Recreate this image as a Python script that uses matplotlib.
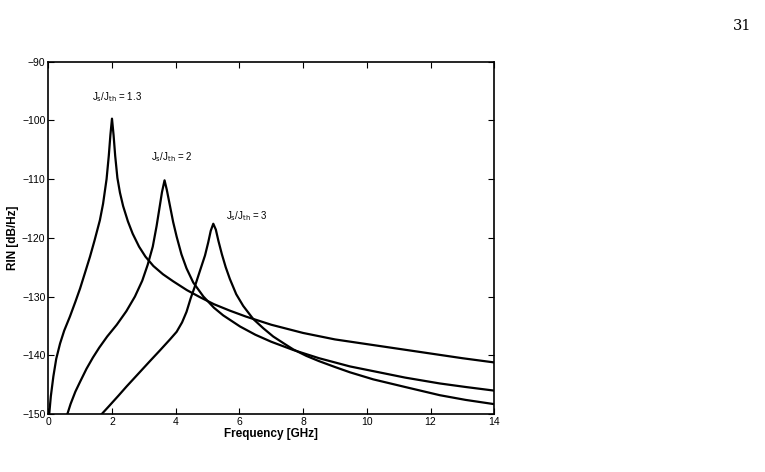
import numpy as np
import matplotlib
matplotlib.use('Agg')
import matplotlib.pyplot as plt

# RIN curves (frequency in GHz, RIN in dB/Hz)
f1 = [0.03, 0.08, 0.16, 0.25, 0.37, 0.5, 0.68, 0.85, 1.0, 1.15, 1.31, 1.45, 1.62, 1.72, 1.83,
      1.90, 1.95, 2.0, 2.05, 2.10, 2.17, 2.25, 2.35, 2.50, 2.65, 2.85, 3.05, 3.3, 3.6, 3.92,
      4.35, 4.76, 5.2, 5.7, 6.2, 7.0, 8.0, 9.0, 10.0, 11.0, 12.0, 13.0, 13.97]
r1 = [-150.0, -147.0, -143.6, -140.6, -138.0, -135.8, -133.4, -130.9, -128.6, -126.0, -123.2,
      -120.5, -117.0, -114.2, -110.0, -106.0, -102.5, -99.7, -102.5, -106.0, -109.8, -112.3,
      -114.6, -117.2, -119.3, -121.5, -123.2, -124.8, -126.2, -127.4, -128.9, -130.1, -131.3,
      -132.4, -133.4, -134.8, -136.2, -137.3, -138.1, -138.9, -139.7, -140.5, -141.2]

f2 = [0.6, 0.7, 0.85, 1.0, 1.2, 1.4, 1.6, 1.85, 2.15, 2.45, 2.72, 2.95, 3.12, 3.28, 3.40,
      3.50, 3.57, 3.65, 3.72, 3.80, 3.92, 4.03, 4.18, 4.34, 4.55, 4.87, 5.2, 5.49, 6.02, 6.5,
      7.0, 7.69, 8.5, 9.47, 10.2, 11.2, 12.29, 13.1, 13.97]
r2 = [-150.0, -148.3, -146.2, -144.5, -142.3, -140.4, -138.7, -136.8, -134.8, -132.5, -130.0,
      -127.3, -124.6, -121.5, -118.0, -114.6, -112.2, -110.2, -111.8, -114.0, -117.3, -119.8,
      -122.8, -125.2, -127.6, -130.0, -131.9, -133.2, -135.1, -136.5, -137.7, -139.1, -140.5,
      -141.9, -142.7, -143.8, -144.8, -145.4, -146.0]

f3 = [1.68, 1.9, 2.2, 2.46, 2.8, 3.19, 3.5, 3.82, 4.03, 4.2, 4.34, 4.47, 4.6, 4.75, 4.92,
      5.02, 5.10, 5.18, 5.26, 5.34, 5.45, 5.57, 5.70, 5.9, 6.12, 6.43, 6.75, 7.06, 7.4, 7.69,
      8.1, 8.5, 9.0, 9.47, 10.2, 11.2, 12.29, 13.1, 13.97]
r3 = [-150.0, -148.7, -146.9, -145.3, -143.3, -141.0, -139.2, -137.3, -136.0, -134.4, -132.6,
      -130.3, -128.3, -125.8, -123.0, -120.8, -118.8, -117.6, -118.6, -120.5, -122.8, -125.0,
      -127.0, -129.6, -131.6, -133.8, -135.4, -136.8, -138.0, -139.0, -140.1, -141.0, -142.0,
      -142.9, -144.1, -145.4, -146.8, -147.6, -148.3]

labels = ['1.3', '2', '3']
label_pos = [(1.36, -96.0), (3.21, -106.2), (5.58, -116.3)]

plt.rcParams['font.family'] = ['Liberation Sans', 'DejaVu Sans']

fig = plt.figure(figsize=(7.65, 4.72), dpi=100)
ax = fig.add_axes([0.0631, 0.1229, 0.583, 0.7464])

for f, r in [(f1, r1), (f2, r2), (f3, r3)]:
    ax.plot(f, r, color='black', lw=1.6, solid_joinstyle='round')

for lab, (x, y) in zip(labels, label_pos):
    ax.text(x, y, r'J$_{\rm s}$/J$_{\rm th}$ = ' + lab, fontsize=7, va='center', ha='left')

ax.set_xlim(0, 14)
ax.set_ylim(-150, -90)
ax.set_xticks(np.arange(0, 15, 2))
ax.set_yticks(np.arange(-150, -89, 10))
ax.set_yticklabels(['\u2212%d' % abs(v) for v in range(-150, -89, 10)])
ax.tick_params(direction='in', top=True, right=True, length=4, width=0.8, labelsize=7.5, pad=2)
for s in ax.spines.values():
    s.set_linewidth(1.2)

ax.set_xlabel('Frequency [GHz]', fontsize=8.5, fontweight='bold', labelpad=1)
ax.set_ylabel('RIN [dB/Hz]', fontsize=8.5, fontweight='bold', labelpad=2)

fig.text(0.982, 0.945, '31', fontsize=10.5, family='DejaVu Serif', ha='right', va='center')

fig.savefig('out.png', dpi=100)
